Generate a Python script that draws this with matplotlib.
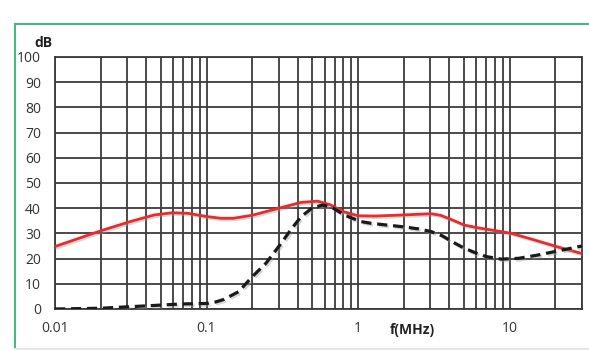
import matplotlib
matplotlib.use("Agg")
import matplotlib.pyplot as plt
from matplotlib.lines import Line2D
import matplotlib.patheffects as pe

plt.rcParams['font.family'] = ['Open Sans', 'DejaVu Sans']

# frequency (MHz) / level (dB)
freq_red = [0.01, 0.0202, 0.0314, 0.045, 0.0593, 0.075, 0.1, 0.125, 0.15, 0.2, 0.3, 0.42,
            0.54, 0.66, 0.8, 1.0, 1.3, 1.93, 2.5, 3.04, 3.5, 4.2, 5.03, 6.2, 7.5, 10.3, 14.0,
            20.6, 30.0]
db_red = [24.8, 31.1, 34.7, 37.3, 38.2, 38.0, 36.7, 36.0, 36.0, 37.2, 40.0, 42.3,
          42.8, 41.3, 38.6, 37.0, 36.9, 37.3, 37.6, 37.8, 37.2, 35.3, 33.3, 32.2, 31.4, 30.0,
          27.7, 24.7, 22.0]

freq_black = [0.01, 0.02, 0.031, 0.045, 0.0673, 0.1, 0.115, 0.13, 0.163, 0.2, 0.246, 0.31,
              0.36, 0.42, 0.5, 0.58, 0.66, 0.81, 1.04, 1.22, 1.5, 1.93, 2.5, 3.04, 3.6, 4.2,
              5.03, 6.0, 7.0, 8.8, 11.4, 15.0, 20.6, 30.0]
db_black = [0.0, 0.3, 0.9, 1.4, 2.0, 2.2, 2.8, 3.8, 6.9, 12.8, 18.1, 26.0,
            31.5, 36.6, 40.2, 41.2, 40.6, 37.3, 34.7, 34.0, 33.4, 32.7, 31.8, 30.7, 29.0, 26.6,
            24.1, 22.2, 20.8, 19.8, 20.1, 21.3, 23.0, 25.0]

y_ticks = list(range(0, 101, 10))
x_ticks = [0.01, 0.1, 1, 10]
x_labels = ['0.01', '0.1', '1', '10']

fig = plt.figure(figsize=(5.89, 3.5), dpi=100)
ax = fig.add_axes([55 / 589, 1 - 309 / 350, 527 / 589, 252 / 350])

grid_col = '#3b3b3b'
ax.set_xscale('log')
ax.set_xlim(0.01, 30)
ax.set_ylim(0, 100)

# vertical grid: every decade step 1..9
minor = [m * 10.0 ** e for e in range(-2, 2) for m in range(1, 10)]
for x in minor:
    if 0.01 <= x <= 30:
        ax.axvline(x, color=grid_col, lw=1.3, zorder=1)
for y in y_ticks:
    ax.axhline(y, color=grid_col, lw=1.3, zorder=1)

shadow = [pe.SimpleLineShadow(offset=(1.2, -1.2), shadow_color='#999999', alpha=0.4), pe.Normal()]
ax.plot(freq_red, db_red, color='#ec2a2e', lw=2.0, zorder=3, path_effects=shadow)
ax.plot(freq_black, db_black, color='#1a1a1a', lw=2.3, ls=(0, (3.2, 1.8)), zorder=4,
        path_effects=shadow)

for s in ax.spines.values():
    s.set_color(grid_col)
    s.set_linewidth(1.3)

ax.set_yticks(y_ticks)
ax.set_xticks(x_ticks)
ax.set_xticklabels(x_labels)
ax.minorticks_off()
ax.tick_params(axis='both', length=0, labelsize=10, colors='#333333')
ax.tick_params(axis='y', pad=10)
ax.tick_params(axis='x', pad=9)

fig.text(43 / 589, 1 - 43 / 350, 'dB', fontsize=10, fontweight='bold', color='#222222',
         ha='center', va='center')
fig.text(412 / 589, 1 - 330 / 350, 'f(MHz)', fontsize=10, fontweight='bold', color='#222222',
         ha='center', va='center')

# green frame (top and left) and faint bottom edge
fig.add_artist(Line2D([14.7 / 589, 14.7 / 589], [0, 1 - 24.3 / 350], transform=fig.transFigure,
                      color='#3dbb7c', lw=1.4))
fig.add_artist(Line2D([14.7 / 589, 1], [1 - 24.3 / 350, 1 - 24.3 / 350], transform=fig.transFigure,
                      color='#3dbb7c', lw=1.4))
fig.add_artist(Line2D([14.7 / 589, 1], [1.5 / 350, 1.5 / 350], transform=fig.transFigure,
                      color='#e6e6e6', lw=1.5))

fig.savefig('out.png', dpi=100)
